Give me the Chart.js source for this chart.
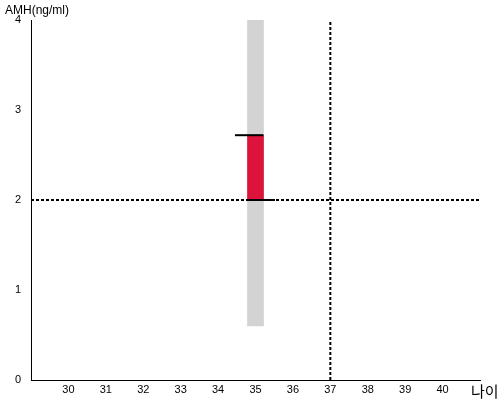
<!DOCTYPE html>
<html>
<head>
<meta charset="utf-8">
<script src="https://cdn.jsdelivr.net/npm/chart.js@4"></script>
<style>
  body { margin: 0; background: #fff; }
  #wrap { width: 500px; height: 400px; }
</style>
</head>
<body>
<div id="wrap"><canvas id="amhChart" width="500" height="400"></canvas></div>
<script>
// 나이 축 / AMH 축 범위
const xRange = [29, 41];
const yRange = [0, 4];
const xTicks = [30, 31, 32, 33, 34, 35, 36, 37, 38, 39, 40];
const yTicks = [0, 1, 2, 3, 4];

// 35세 AMH 범위 (회색) 와 본인 구간 (빨강)
const age = [35];
const rangeLow = [0.6];
const rangeHigh = [4];
const myLow = [2.0];
const myHigh = [2.72];

// 기준선
const refAge = [37];
const refAmh = [2.0];

// 가로 눈금 막대 (시작, 끝 나이)
const topCap = [34.45, 35.21];
const bottomCap = [34.78, 35.52];

const labelPlugin = {
    id: 'axisLabels',
    afterDraw(chart) {
        const ctx = chart.ctx;
        ctx.save();
        ctx.fillStyle = '#000';
        ctx.textBaseline = 'middle';
        ctx.textAlign = 'left';
        ctx.font = '12px "Liberation Sans", Arial, sans-serif';
        ctx.fillText('AMH(ng/ml)', 5, 11);
        ctx.font = '15px "Noto Sans CJK KR", sans-serif';
        ctx.fillText('나이', 471, 391);
        ctx.restore();
    }
};

new Chart(document.getElementById('amhChart'), {
    type: 'bar',
    data: {
        datasets: [
            {
                type: 'line',
                data: [{ x: topCap[0], y: myHigh[0] }, { x: topCap[1], y: myHigh[0] }],
                borderColor: '#000', borderWidth: 2, pointRadius: 0, order: 0
            },
            {
                type: 'line',
                data: [{ x: bottomCap[0], y: myLow[0] }, { x: bottomCap[1], y: myLow[0] }],
                borderColor: '#000', borderWidth: 2, pointRadius: 0, order: 0
            },
            {
                type: 'line',
                data: [{ x: xRange[0], y: refAmh[0] }, { x: xRange[1], y: refAmh[0] }],
                borderColor: '#000', borderWidth: 2, borderDash: [3, 2], pointRadius: 0, order: 1
            },
            {
                type: 'line',
                data: [{ x: refAge[0], y: yRange[0] }, { x: refAge[0], y: yRange[1] }],
                borderColor: '#000', borderWidth: 2, borderDash: [3, 2], pointRadius: 0, order: 1
            },
            {
                data: age.map((a, i) => ({ x: a, y: [myLow[i], myHigh[i]] })),
                backgroundColor: '#dc143c', barThickness: 16, grouped: false, order: 2
            },
            {
                data: age.map((a, i) => ({ x: a, y: [rangeLow[i], rangeHigh[i]] })),
                backgroundColor: '#d3d3d3', barThickness: 16, grouped: false, order: 3
            }
        ]
    },
    options: {
        responsive: false,
        animation: false,
        layout: { padding: { top: 20, right: 20, left: 0, bottom: 0 } },
        plugins: { legend: { display: false }, tooltip: { enabled: false } },
        scales: {
            x: {
                type: 'linear',
                offset: false,
                min: xRange[0], max: xRange[1],
                grid: { display: false, drawTicks: false, offset: false },
                border: { display: true, color: '#000', width: 1 },
                afterFit(s) { s.height = 20; },
                afterBuildTicks(s) { s.ticks = xTicks.map(v => ({ value: v })); },
                ticks: {
                    padding: 3, color: '#000',
                    font: { family: '"Liberation Sans", Arial, sans-serif', size: 11 }
                }
            },
            y: {
                min: yRange[0], max: yRange[1],
                grid: { display: false, drawTicks: false },
                border: { display: true, color: '#000', width: 1 },
                afterFit(s) { s.width = 31; },
                afterBuildTicks(s) { s.ticks = yTicks.map(v => ({ value: v })); },
                ticks: {
                    padding: 10, color: '#000',
                    font: { family: '"Liberation Sans", Arial, sans-serif', size: 11 }
                }
            }
        }
    },
    plugins: [labelPlugin]
});
</script>
</body>
</html>
